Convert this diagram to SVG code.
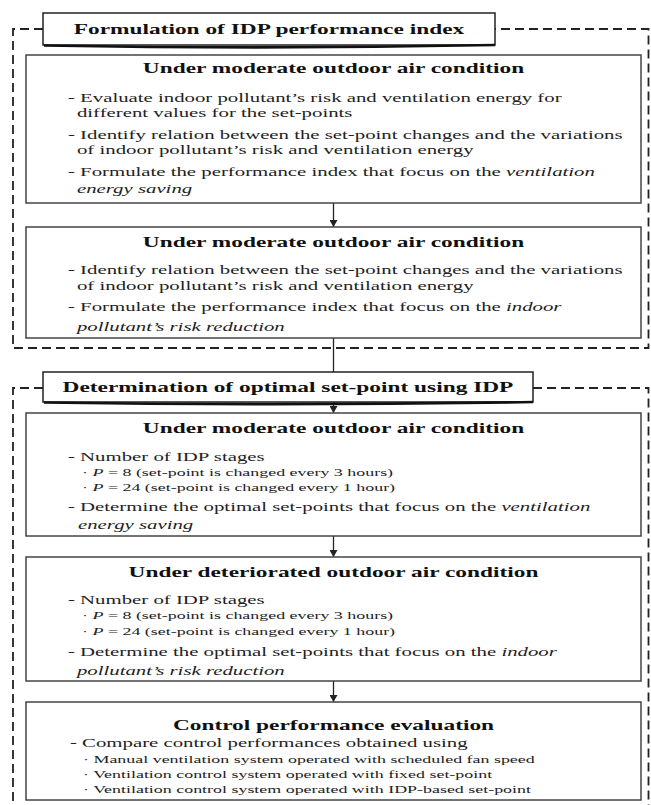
<svg xmlns="http://www.w3.org/2000/svg" width="651" height="805" viewBox="0 0 651 805">
<style>
.box{fill:#fff;stroke:#444;stroke-width:1.5}
.tbox{fill:#fff;stroke:#222;stroke-width:1.5}
.shadow{fill:none;stroke:#111;stroke-width:2.6}
.dash{fill:none;stroke:#222;stroke-width:1.8;stroke-dasharray:9 5}
.conn{fill:none;stroke:#222;stroke-width:1.3}
.h{font-family:"Liberation Serif","Times New Roman",serif;font-weight:bold;font-size:14.6px;text-anchor:middle;fill:#111}
.t{font-family:"Liberation Serif","Times New Roman",serif;font-size:13px;fill:#222}
.s{font-size:11.2px}
.i{font-style:italic}
</style>
<defs>
<marker id="arr" markerWidth="7" markerHeight="8" refX="7" refY="4" orient="auto" markerUnits="userSpaceOnUse">
<path d="M0,0 L7,4 L0,8 z" fill="#222"/>
</marker>
</defs>

<g id="group1-frame">
<path class="dash" d="M43,29 H13 V348 H648.5 V29 H495"/>
</g>
<g id="group2-frame">
<path class="dash" d="M43,388 H13 V810"/>
<path class="dash" d="M533,388 H648.5 V810"/>
</g>

<g id="connectors">
<line class="conn" x1="333.5" y1="203" x2="333.5" y2="227" marker-end="url(#arr)"/>
<line class="conn" x1="333.5" y1="338" x2="333.5" y2="372"/>
<line class="conn" x1="333.5" y1="402" x2="333.5" y2="413" marker-end="url(#arr)"/>
<line class="conn" x1="333.5" y1="536" x2="333.5" y2="557" marker-end="url(#arr)"/>
<line class="conn" x1="333.5" y1="681" x2="333.5" y2="702" marker-end="url(#arr)"/>
</g>

<g id="title1">
<rect class="tbox" x="43" y="13" width="452" height="32"/>
<path class="shadow" d="M44,45.5 Q269,49.5 495,45"/>
<g transform="scale(1.6 1)">
<text class="h" x="168.125" y="34">Formulation of IDP performance index</text>
</g>
</g>

<g id="box1">
<rect class="box" x="26" y="55" width="615" height="148"/>
<g transform="scale(1.6 1)">
<text class="h" x="208.44" y="73">Under moderate outdoor air condition</text>
<text class="t" x="42.5" y="102">- Evaluate indoor pollutant’s risk and ventilation energy for</text>
<text class="t" x="48.1" y="117">different values for the set-points</text>
<text class="t" x="42.5" y="139">- Identify relation between the set-point changes and the variations</text>
<text class="t" x="48.1" y="154">of indoor pollutant’s risk and ventilation energy</text>
<text class="t" x="42.5" y="176">- Formulate the performance index that focus on the <tspan class="i">ventilation</tspan></text>
<text class="t i" x="48.1" y="193">energy saving</text>
</g>
</g>

<g id="box2">
<rect class="box" x="26" y="227" width="615" height="111"/>
<g transform="scale(1.6 1)">
<text class="h" x="208.44" y="247">Under moderate outdoor air condition</text>
<text class="t" x="42.5" y="274">- Identify relation between the set-point changes and the variations</text>
<text class="t" x="48.1" y="290">of indoor pollutant’s risk and ventilation energy</text>
<text class="t" x="42.5" y="311">- Formulate the performance index that focus on the <tspan class="i">indoor</tspan></text>
<text class="t i" x="48.1" y="331">pollutant’s risk reduction</text>
</g>
</g>

<g id="title2">
<rect class="tbox" x="43" y="372" width="490" height="30"/>
<path class="shadow" d="M44,402.5 Q288,406 533,402"/>
<g transform="scale(1.6 1)">
<text class="h" x="180" y="392">Determination of optimal set-point using IDP</text>
</g>
</g>

<g id="box3">
<rect class="box" x="26" y="413" width="615" height="123"/>
<g transform="scale(1.6 1)">
<text class="h" x="208.44" y="433">Under moderate outdoor air condition</text>
<text class="t" x="42.5" y="461">- Number of IDP stages</text>
<text class="t s" x="51.25" y="476">· <tspan class="i">P</tspan> = 8 (set-point is changed every 3 hours)</text>
<text class="t s" x="51.25" y="491">· <tspan class="i">P</tspan> = 24 (set-point is changed every 1 hour)</text>
<text class="t" x="42.5" y="511">- Determine the optimal set-points that focus on the <tspan class="i">ventilation</tspan></text>
<text class="t i" x="48.75" y="529">energy saving</text>
</g>
</g>

<g id="box4">
<rect class="box" x="26" y="557" width="615" height="124"/>
<g transform="scale(1.6 1)">
<text class="h" x="208.44" y="577">Under deteriorated outdoor air condition</text>
<text class="t" x="42.5" y="604">- Number of IDP stages</text>
<text class="t s" x="51.25" y="619">· <tspan class="i">P</tspan> = 8 (set-point is changed every 3 hours)</text>
<text class="t s" x="51.25" y="635">· <tspan class="i">P</tspan> = 24 (set-point is changed every 1 hour)</text>
<text class="t" x="42.5" y="656">- Determine the optimal set-points that focus on the <tspan class="i">indoor</tspan></text>
<text class="t i" x="48.1" y="675">pollutant’s risk reduction</text>
</g>
</g>

<g id="box5">
<rect class="box" x="26" y="702" width="615" height="98"/>
<g transform="scale(1.6 1)">
<text class="h" x="208.44" y="730">Control performance evaluation</text>
<text class="t" x="43.75" y="747">- Compare control performances obtained using</text>
<text class="t s" x="51.9" y="763">· Manual ventilation system operated with scheduled fan speed</text>
<text class="t s" x="51.9" y="778">· Ventilation control system operated with fixed set-point</text>
<text class="t s" x="51.9" y="793">· Ventilation control system operated with IDP-based set-point</text>
</g>
</g>
</svg>
